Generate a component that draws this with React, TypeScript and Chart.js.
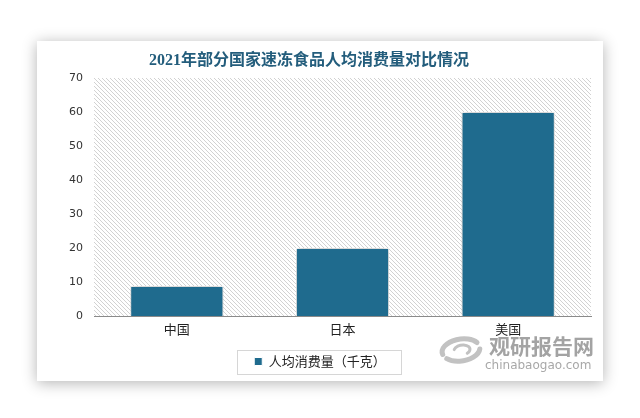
import React, { useEffect, useRef } from 'react';
import { Chart, registerables } from 'chart.js';

Chart.register(...registerables);

const titleText = '2021年部分国家速冻食品人均消费量对比情况';
const categories = ['中国', '日本', '美国'];
const seriesName = '人均消费量（千克）';
const values = [8.8, 20, 60];
const yTicks = [0, 10, 20, 30, 40, 50, 60, 70];
const watermarkCn = '观研报告网';
const watermarkEn = 'chinabaogao.com';

const BAR_COLOR = '#1f6b8e';
const CJK = "'Noto Sans CJK SC', 'Noto Sans', sans-serif";

function makeHatch(ctx: CanvasRenderingContext2D): CanvasPattern | string {
  const c = document.createElement('canvas');
  c.width = 4;
  c.height = 4;
  const p = c.getContext('2d');
  if (!p) return '#eee';
  p.fillStyle = '#ffffff';
  p.fillRect(0, 0, 4, 4);
  p.fillStyle = '#d2d2d2';
  for (let i = 0; i < 4; i++) p.fillRect(i, i, 1, 1);
  return ctx.createPattern(c, 'repeat') || '#eee';
}

const backgroundPlugin = {
  id: 'bgCard',
  beforeDraw(chart: any) {
    const { ctx, chartArea, width, height } = chart;
    ctx.save();
    ctx.fillStyle = '#ffffff';
    ctx.fillRect(0, 0, width, height);
    ctx.shadowColor = 'rgba(0,0,0,0.3)';
    ctx.shadowBlur = 14;
    ctx.shadowOffsetX = 0;
    ctx.shadowOffsetY = 2;
    ctx.fillRect(37, 41, 566, 340);
    ctx.restore();

    ctx.save();
    ctx.fillStyle = makeHatch(ctx);
    ctx.fillRect(chartArea.left, chartArea.top, chartArea.right - chartArea.left, chartArea.bottom - chartArea.top);
    ctx.restore();

    ctx.save();
    ctx.fillStyle = '#235d7c';
    ctx.font = "bold 16px 'Liberation Serif', " + CJK;
    ctx.textAlign = 'center';
    ctx.textBaseline = 'middle';
    ctx.fillText(titleText, 309, 61);
    ctx.restore();

    ctx.save();
    ctx.strokeStyle = '#c2c2c2';
    ctx.lineCap = 'round';
    ctx.lineWidth = 5;
    ctx.beginPath();
    ctx.ellipse(461, 350, 19, 11, -0.15, Math.PI * 0.95, Math.PI * 1.85);
    ctx.stroke();
    ctx.beginPath();
    ctx.ellipse(461, 350, 19, 11, -0.15, Math.PI * 0.05, Math.PI * 0.8);
    ctx.stroke();
    ctx.lineWidth = 3;
    ctx.beginPath();
    ctx.ellipse(462, 350, 8, 5, -0.15, Math.PI * 1.1, Math.PI * 2.3);
    ctx.stroke();
    ctx.fillStyle = '#a3a3a3';
    ctx.font = 'bold 21px ' + CJK;
    ctx.textAlign = 'left';
    ctx.textBaseline = 'middle';
    ctx.fillText(watermarkCn, 489, 346);
    ctx.fillStyle = '#a8a8a8';
    ctx.font = "12px 'DejaVu Sans', sans-serif";
    ctx.fillText(watermarkEn, 485, 366);
    ctx.restore();
  },
  beforeDatasetsDraw(chart: any) {
    const { ctx } = chart;
    ctx.save();
    ctx.shadowColor = 'rgba(0,0,0,0.35)';
    ctx.shadowBlur = 7;
    ctx.shadowOffsetX = 0;
    ctx.shadowOffsetY = 0;
  },
  afterDatasetsDraw(chart: any) {
    chart.ctx.restore();
  },
  afterDraw(chart: any) {
    const legend = chart.legend;
    if (!legend || !legend.legendHitBoxes || !legend.legendHitBoxes.length) return;
    const hb = legend.legendHitBoxes[0];
    const { ctx } = chart;
    const cy = hb.top + hb.height / 2;
    ctx.save();
    ctx.strokeStyle = '#d6d6d6';
    ctx.lineWidth = 1;
    ctx.strokeRect(Math.round(hb.left - 17) + 0.5, Math.round(cy - 12) + 0.5, Math.round(hb.width + 32), 24);
    ctx.restore();
  },
};

export default function App() {
  const canvasRef = useRef<HTMLCanvasElement | null>(null);

  useEffect(() => {
    const canvas = canvasRef.current;
    if (!canvas) return;
    const chart = new Chart(canvas, {
      type: 'bar',
      data: {
        labels: categories,
        datasets: [
          {
            label: seriesName,
            data: values,
            backgroundColor: BAR_COLOR,
            borderColor: '#ffffff',
            borderWidth: 1,
            categoryPercentage: 1,
            barPercentage: 0.5625,
          },
        ],
      },
      options: {
        responsive: false,
        animation: false,
        devicePixelRatio: 1,
        layout: { padding: { left: 49, right: 49, top: 78, bottom: 40 } },
        plugins: {
          title: { display: false },
          tooltip: { enabled: false },
          legend: {
            display: true,
            position: 'bottom',
            labels: {
              boxWidth: 8,
              boxHeight: 8,
              padding: 10,
              color: '#222',
              font: { family: CJK, size: 13 },
            },
          },
        },
        scales: {
          x: {
            grid: { display: false, drawTicks: false },
            border: { display: true, color: '#8a8a8a', width: 1 },
            ticks: { color: '#222', font: { family: CJK, size: 13 }, padding: 5 },
            afterFit: (scale: any) => {
              scale.height = 29;
            },
          },
          y: {
            min: 0,
            max: 70,
            grid: { display: false, drawTicks: false },
            border: { display: false },
            afterBuildTicks: (scale: any) => {
              scale.ticks = yTicks.map((v) => ({ value: v }));
            },
            ticks: { color: '#333', font: { family: "'DejaVu Sans', sans-serif", size: 11 }, padding: 11 },
            afterFit: (scale: any) => {
              scale.width = 45;
            },
          },
        },
      },
      plugins: [backgroundPlugin],
    });
    return () => chart.destroy();
  }, []);

  return (
    <div style={{ position: 'fixed', left: 0, top: 0, width: 640, height: 418, background: '#fff' }}>
      <canvas ref={canvasRef} width={640} height={418} style={{ display: 'block' }} />
    </div>
  );
}
